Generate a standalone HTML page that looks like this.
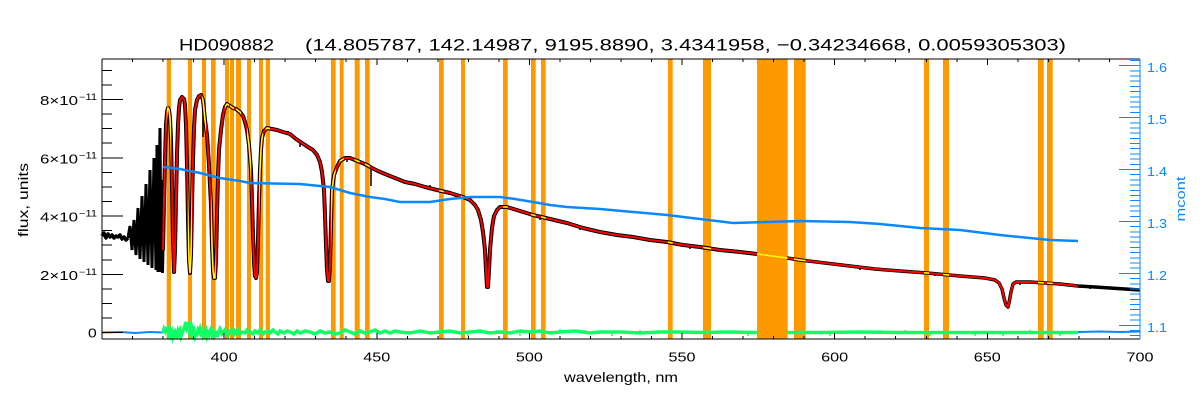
<!DOCTYPE html>
<html><head><meta charset="utf-8"><style>
html,body{margin:0;padding:0;background:#fff;}
svg{display:block;}
text{font-family:"Liberation Sans",sans-serif;}
</style></head><body>
<svg width="1200" height="400" viewBox="0 0 1200 400" xmlns="http://www.w3.org/2000/svg">
<rect width="1200" height="400" fill="#fff"/>
<defs>
<clipPath id="bars">
<rect x="166.7" y="59" width="4.3" height="280"/><rect x="188" y="59" width="4" height="280"/><rect x="202" y="59" width="4" height="280"/><rect x="211" y="59" width="4.7" height="280"/><rect x="225" y="59" width="4" height="280"/><rect x="230" y="59" width="4" height="280"/><rect x="236" y="59" width="5" height="280"/><rect x="247" y="59" width="4" height="280"/><rect x="259" y="59" width="4" height="280"/><rect x="265.7" y="59" width="4.3" height="280"/><rect x="331" y="59" width="4.7" height="280"/><rect x="339.7" y="59" width="4" height="280"/><rect x="354.7" y="59" width="5" height="280"/><rect x="365" y="59" width="4.7" height="280"/><rect x="439" y="59" width="4.7" height="280"/><rect x="461" y="59" width="4" height="280"/><rect x="503" y="59" width="4.7" height="280"/><rect x="531" y="59" width="4.7" height="280"/><rect x="541" y="59" width="4.7" height="280"/><rect x="668" y="59" width="4.7" height="280"/><rect x="703" y="59" width="8" height="280"/><rect x="757" y="59" width="30.7" height="280"/><rect x="794" y="59" width="11.7" height="280"/><rect x="924" y="59" width="5" height="280"/><rect x="943" y="59" width="6" height="280"/><rect x="1038" y="59" width="5.7" height="280"/><rect x="1047" y="59" width="5.7" height="280"/>
</clipPath>
</defs>

<!-- orange bars -->
<g fill="#ff9900">
<rect x="166.7" y="59" width="4.3" height="280"/><rect x="188" y="59" width="4" height="280"/><rect x="202" y="59" width="4" height="280"/><rect x="211" y="59" width="4.7" height="280"/><rect x="225" y="59" width="4" height="280"/><rect x="230" y="59" width="4" height="280"/><rect x="236" y="59" width="5" height="280"/><rect x="247" y="59" width="4" height="280"/><rect x="259" y="59" width="4" height="280"/><rect x="265.7" y="59" width="4.3" height="280"/><rect x="331" y="59" width="4.7" height="280"/><rect x="339.7" y="59" width="4" height="280"/><rect x="354.7" y="59" width="5" height="280"/><rect x="365" y="59" width="4.7" height="280"/><rect x="439" y="59" width="4.7" height="280"/><rect x="461" y="59" width="4" height="280"/><rect x="503" y="59" width="4.7" height="280"/><rect x="531" y="59" width="4.7" height="280"/><rect x="541" y="59" width="4.7" height="280"/><rect x="668" y="59" width="4.7" height="280"/><rect x="703" y="59" width="8" height="280"/><rect x="757" y="59" width="30.7" height="280"/><rect x="794" y="59" width="11.7" height="280"/><rect x="924" y="59" width="5" height="280"/><rect x="943" y="59" width="6" height="280"/><rect x="1038" y="59" width="5.7" height="280"/><rect x="1047" y="59" width="5.7" height="280"/>
</g>

<!-- blue baseline pieces -->
<g stroke="#0a88ff" stroke-width="2" fill="none">
<polyline points="102,332.5 120,332 135,333 150,332 163,332.5"/>
<polyline points="1078,332 1100,331.5 1120,332 1140,331.5"/>
</g>

<!-- green residual -->
<g stroke="#11ff66" stroke-width="3.5" fill="none" stroke-linejoin="miter">
<polyline points="163,333 164,329 165,331 166,327 167,333 168,330 169,334 170,331 171,335 172,332 173,337 174,334 175,338 176,333 177,335 178,331 179,334 180,331 181,336 182,333 183,331 184,328 185,325 186,322 187,328 188,326 189,330 190,327 191,332 192,329 193,334 194,331 195,336 196,333 197,334 198,330 199,332 200,329 201,333 202,331 203,335 204,332 205,334 206,331 207,336 208,333 209,335 210,331 211,329 212,334 213,336 214,332 215,334 216,331 217,337 218,334 219,332 220,329 221,331 222,334 223,333 225,330 226,332 228,335 229,333 231,330 232,332 234,334 235,331 237,333 238,330 240,334 242,332 245,333 247,330 250,332 253,334 255,331 258,333 260,330 263,334 265,332 268,331 270,333 273,330 275,332 278,334 280,331 284,333 287,331 290,332 294,334 297,331 300,333 305,331 310,332 315,334 320,331 325,333 330,332 335,334 340,333 345,330 350,332 355,334 360,331 365,333 370,332 375,330 380,333 385,331 390,333 395,331 400,332 410,333 420,331 430,333 440,332 450,331 460,333 470,332 480,331 490,333 500,332 510,333 520,331 530,332 540,331 550,333 560,332 575,331 590,333 600,332 620,332 640,333 660,332 680,332 700,332.5 730,332 757,332.5"/>
<polyline points="787,332.5 820,332.5 860,332 900,332.5 950,332.5 1000,332.5 1040,332.5 1078,332.5"/>
</g>
<g stroke="#11ff66" stroke-width="1.5">
<path d="M560,333v-4M585,333v-3M612,333v3M640,333v-3M720,333v-3M748,333v3M800,333v-3M830,333v3M880,333v-3M905,333v-3M930,333v3M975,333v3M1003,333v3M1030,333v-3M1060,333v3M440,333v-3M468,333v3M497,333v-3M520,333v3"/>
</g>

<!-- black spectrum -->
<g stroke="#000" fill="none" stroke-linejoin="round">
<polyline stroke-width="3.5" points="102,236 104,233 106,238 108,234 110,237 112,235 114,238 116,236 118,237 120,235 122,239 124,237 126,240 128,238"/>
<polyline stroke-width="3" stroke-linejoin="miter" points="128,238 130,226 132,250 134,220 136,255 138,208 140,259 142,196 144,262 146,184 148,265 150,170 152,268 154,158 156,270 157,145 158,272 160,128 161,272 162,180 162.5,273 163,250"/>
<polyline stroke-width="4" points="163,250 164,200 165,160 166,125 167,112 168,108 169,110 170,118 171,140 172,185 173,240 174,272 175,250 176,200 177,155 178,125 179,108 180,100 182,97 184,99 185,105 186,125 187,165 188,220 189,260 190,273 191,255 192,205 193,160 194,128 195,110 197,100 199,96 201,95 203,100 204,110 205,120 207,135 209,165 211,205 212,245 213,270 214,278 215,278 216,260 217,215 218,175 219,150 221,130 223,115 225,107 227,104 230,106 233,108 236,109 240,112 243,116 245,122 247,130 249,145 251,170 252,200 253,235 254,262 255,276 256,278 257,272 258,240 259,200 260,170 261,150 262,138 264,131 267,128 272,129 277,130 283,132 290,134 296,139 302,143 308,147 313,150 317,155 320,162 322,172 324,190 325,215 326,245 327,270 328,281 329,281 330,265 331,225 332,190 334,175 337,167 340,161 345,158 350,158 355,160 360,162 367,165 372,168 378,171 385,174 395,178 405,182 415,184 425,187 437,190 450,193 463,197 470,200 475,205 478,210 481,220 483,232 485,250 486,270 487,287 488,287 489,270 490,250 492,228 494,216 497,210 500,207 507,207 520,211 533,215 550,219 567,223 583,228 600,232 617,235 633,237 650,240 667,242 683,245 700,247 720,250 740,252 757,254"/>
<polyline stroke-width="3.5" points="787,258 800,260 825,263 850,266 875,269 900,271 927,273 960,276 985,278 995,280 999,283 1002,289 1004,298 1006,305 1008,307 1009,303 1011,292 1013,284 1016,282 1030,282 1045,283 1060,284 1078,286 1095,287 1110,288 1125,289 1140,290"/>
</g>
<g stroke="#000" stroke-width="1.5">
<path d="M203,100V137M371,166V186M300,140V147M347,157V162M385,172V176M410,181V185M430,185V189M455,193V197M540,216V220M580,226V230M625,235V238M690,245V249M860,266V270M935,272V276M1020,281V285M1090,285V289M288,131V135"/>
</g>

<!-- red -->
<g stroke="#ff0000" fill="none" stroke-width="2" stroke-linejoin="round">
<polyline points="163,250 164,200 165,160 166,125 167,112 168,108 169,110 170,118 171,140 172,185 173,240 174,272 175,250 176,200 177,155 178,125 179,108 180,100 182,97 184,99 185,105 186,125 187,165 188,220 189,260 190,273 191,255 192,205 193,160 194,128 195,110 197,100 199,96 201,95 203,100 204,110 205,120 207,135 209,165 211,205 212,245 213,270 214,278 215,278 216,260 217,215 218,175 219,150 221,130 223,115 225,107 227,104 230,106 233,108 236,109 240,112 243,116 245,122 247,130 249,145 251,170 252,200 253,235 254,262 255,276 256,278 257,272 258,240 259,200 260,170 261,150 262,138 264,131 267,128 272,129 277,130 283,132 290,134 296,139 302,143 308,147 313,150 317,155 320,162 322,172 324,190 325,215 326,245 327,270 328,281 329,281 330,265 331,225 332,190 334,175 337,167 340,161 345,158 350,158 355,160 360,162 367,165 372,168 378,171 385,174 395,178 405,182 415,184 425,187 437,190 450,193 463,197 470,200 475,205 478,210 481,220 483,232 485,250 486,270 487,287 488,287 489,270 490,250 492,228 494,216 497,210 500,207 507,207 520,211 533,215 550,219 567,223 583,228 600,232 617,235 633,237 650,240 667,242 683,245 700,247 720,250 740,252 757,254"/>
<polyline points="787,258 800,260 825,263 850,266 875,269 900,271 927,273 960,276 985,278 995,280 999,283 1002,289 1004,298 1006,305 1008,307 1009,303 1011,292 1013,284 1016,282 1030,282 1045,283 1060,284 1078,286"/>
</g>

<!-- yellow within masks -->
<g stroke="#ffff00" fill="none" stroke-width="1.5" clip-path="url(#bars)">
<polyline points="163,250 164,200 165,160 166,125 167,112 168,108 169,110 170,118 171,140 172,185 173,240 174,272 175,250 176,200 177,155 178,125 179,108 180,100 182,97 184,99 185,105 186,125 187,165 188,220 189,260 190,273 191,255 192,205 193,160 194,128 195,110 197,100 199,96 201,95 203,100 204,110 205,120 207,135 209,165 211,205 212,245 213,270 214,278 215,278 216,260 217,215 218,175 219,150 221,130 223,115 225,107 227,104 230,106 233,108 236,109 240,112 243,116 245,122 247,130 249,145 251,170 252,200 253,235 254,262 255,276 256,278 257,272 258,240 259,200 260,170 261,150 262,138 264,131 267,128 272,129 277,130 283,132 290,134 296,139 302,143 308,147 313,150 317,155 320,162 322,172 324,190 325,215 326,245 327,270 328,281 329,281 330,265 331,225 332,190 334,175 337,167 340,161 345,158 350,158 355,160 360,162 367,165 372,168 378,171 385,174 395,178 405,182 415,184 425,187 437,190 450,193 463,197 470,200 475,205 478,210 481,220 483,232 485,250 486,270 487,287 488,287 489,270 490,250 492,228 494,216 497,210 500,207 507,207 520,211 533,215 550,219 567,223 583,228 600,232 617,235 633,237 650,240 667,242 683,245 700,247 720,250 740,252 757,254 772,256 787,258 800,260 825,263 850,266 875,269 900,271 927,273 960,276 985,278 995,280 999,283 1002,289 1004,298 1006,305 1008,307 1009,303 1011,292 1013,284 1016,282 1030,282 1045,283 1060,284 1078,286"/>
</g>

<!-- blue mcont -->
<polyline fill="none" stroke="#0a88ff" stroke-width="2.5" points="163,167 180,169 200,173 220,178 240,181 250,183 300,184 320,186 330,187 340,190 350,193 370,197 385,199 400,202 430,202 450,199 470,197 500,197 515,199 533,202 550,205 567,207 600,209 633,212 667,215 700,219 733,223 767,222 800,221 850,222 880,224 920,228 960,230 1000,235 1030,238 1050,240 1078,241"/>

<!-- axes -->
<g stroke="#000" stroke-width="1" fill="none" shape-rendering="crispEdges">
<line x1="102" y1="339" x2="1140" y2="339"/>
<line x1="102" y1="59" x2="1140" y2="59"/>
<line x1="102" y1="59" x2="102" y2="339"/>
<path d="M132.5,339v-3M163.1,339v-3M193.6,339v-3M224.1,339v-6M254.6,339v-3M285.2,339v-3M315.7,339v-3M346.2,339v-3M376.8,339v-6M407.3,339v-3M437.8,339v-3M468.3,339v-3M498.9,339v-3M529.4,339v-6M559.9,339v-3M590.5,339v-3M621,339v-3M651.5,339v-3M682,339v-6M712.6,339v-3M743.1,339v-3M773.6,339v-3M804.2,339v-3M834.7,339v-6M865.2,339v-3M895.7,339v-3M926.3,339v-3M956.8,339v-3M987.3,339v-6M1017.9,339v-3M1048.4,339v-3M1078.9,339v-3M1109.4,339v-3"/>
<path d="M132.5,59v3M163.1,59v3M193.6,59v3M224.1,59v6M254.6,59v3M285.2,59v3M315.7,59v3M346.2,59v3M376.8,59v6M407.3,59v3M437.8,59v3M468.3,59v3M498.9,59v3M529.4,59v6M559.9,59v3M590.5,59v3M621,59v3M651.5,59v3M682,59v6M712.6,59v3M743.1,59v3M773.6,59v3M804.2,59v3M834.7,59v6M865.2,59v3M895.7,59v3M926.3,59v3M956.8,59v3M987.3,59v6M1017.9,59v3M1048.4,59v3M1078.9,59v3M1109.4,59v3"/>
<path d="M102,332.7h21M102,318.1h10M102,303.6h10M102,289h10M102,274.4h21M102,259.8h10M102,245.2h10M102,230.7h10M102,216.1h21M102,201.5h10M102,186.9h10M102,172.4h10M102,157.8h21M102,143.2h10M102,128.6h10M102,114.1h10M102,99.5h21M102,84.9h10M102,70.3h10"/>
</g>
<g stroke="#0a88ff" stroke-width="1" fill="none" shape-rendering="crispEdges">
<line x1="1140" y1="59" x2="1140" y2="339"/>
<path d="M1140,335.7h-10M1140,330.5h-10M1140,325.3h-21M1140,320.1h-10M1140,314.9h-10M1140,309.7h-10M1140,304.5h-10M1140,299.3h-10M1140,294.2h-10M1140,289h-10M1140,283.8h-10M1140,278.6h-10M1140,273.4h-21M1140,268.2h-10M1140,263h-10M1140,257.8h-10M1140,252.6h-10M1140,247.4h-10M1140,242.2h-10M1140,237h-10M1140,231.8h-10M1140,226.6h-10M1140,221.5h-21M1140,216.3h-10M1140,211.1h-10M1140,205.9h-10M1140,200.7h-10M1140,195.5h-10M1140,190.3h-10M1140,185.1h-10M1140,179.9h-10M1140,174.7h-10M1140,169.5h-21M1140,164.3h-10M1140,159.1h-10M1140,153.9h-10M1140,148.7h-10M1140,143.6h-10M1140,138.4h-10M1140,133.2h-10M1140,128h-10M1140,122.8h-10M1140,117.6h-21M1140,112.4h-10M1140,107.2h-10M1140,102h-10M1140,96.8h-10M1140,91.6h-10M1140,86.4h-10M1140,81.2h-10M1140,76h-10M1140,70.8h-10M1140,65.7h-21M1140,60.5h-10"/>
</g>

<!-- title -->
<text x="179" y="50.5" font-size="17" textLength="95" lengthAdjust="spacingAndGlyphs">HD090882</text>
<text x="305" y="50.5" font-size="17" textLength="761" lengthAdjust="spacingAndGlyphs">(14.805787, 142.14987, 9195.8890, 3.4341958, −0.34234668, 0.0059305303)</text>

<!-- x tick labels -->
<g font-size="13" text-anchor="middle" fill="#000">
<text x="224.1" y="361.7" textLength="27" lengthAdjust="spacingAndGlyphs">400</text>
<text x="376.8" y="361.7" textLength="27" lengthAdjust="spacingAndGlyphs">450</text>
<text x="529.4" y="361.7" textLength="27" lengthAdjust="spacingAndGlyphs">500</text>
<text x="682" y="361.7" textLength="27" lengthAdjust="spacingAndGlyphs">550</text>
<text x="834.7" y="361.7" textLength="27" lengthAdjust="spacingAndGlyphs">600</text>
<text x="987.3" y="361.7" textLength="27" lengthAdjust="spacingAndGlyphs">650</text>
<text x="1140" y="361.7" textLength="27" lengthAdjust="spacingAndGlyphs">700</text>
</g>
<text x="564" y="382" font-size="14" textLength="114" lengthAdjust="spacingAndGlyphs">wavelength, nm</text>

<!-- y tick labels left -->
<g fill="#000">
<text x="88" y="337.5" font-size="13" textLength="8.7" lengthAdjust="spacingAndGlyphs">0</text>
<text x="40" y="279.9" font-size="13" textLength="38" lengthAdjust="spacingAndGlyphs">2×10</text>
<text x="79" y="275" font-size="9" textLength="18" lengthAdjust="spacingAndGlyphs">−11</text>
<text x="40" y="221.6" font-size="13" textLength="38" lengthAdjust="spacingAndGlyphs">4×10</text>
<text x="79" y="216.7" font-size="9" textLength="18" lengthAdjust="spacingAndGlyphs">−11</text>
<text x="40" y="163.3" font-size="13" textLength="38" lengthAdjust="spacingAndGlyphs">6×10</text>
<text x="79" y="158.4" font-size="9" textLength="18" lengthAdjust="spacingAndGlyphs">−11</text>
<text x="40" y="105" font-size="13" textLength="38" lengthAdjust="spacingAndGlyphs">8×10</text>
<text x="79" y="100.1" font-size="9" textLength="18" lengthAdjust="spacingAndGlyphs">−11</text>
</g>
<text transform="translate(28,200) rotate(-90)" font-size="14" text-anchor="middle" textLength="74" lengthAdjust="spacingAndGlyphs">flux, units</text>

<!-- right labels -->
<g fill="#0a88ff" font-size="13">
<text x="1147" y="331.8" textLength="20" lengthAdjust="spacingAndGlyphs">1.1</text>
<text x="1147" y="279.9" textLength="20" lengthAdjust="spacingAndGlyphs">1.2</text>
<text x="1147" y="228" textLength="20" lengthAdjust="spacingAndGlyphs">1.3</text>
<text x="1147" y="176" textLength="20" lengthAdjust="spacingAndGlyphs">1.4</text>
<text x="1147" y="124.1" textLength="20" lengthAdjust="spacingAndGlyphs">1.5</text>
<text x="1147" y="72.2" textLength="20" lengthAdjust="spacingAndGlyphs">1.6</text>
<text transform="translate(1185,199) rotate(-90)" text-anchor="middle" font-size="13" textLength="45" lengthAdjust="spacingAndGlyphs">mcont</text>
</g>
</svg>
</body></html>
